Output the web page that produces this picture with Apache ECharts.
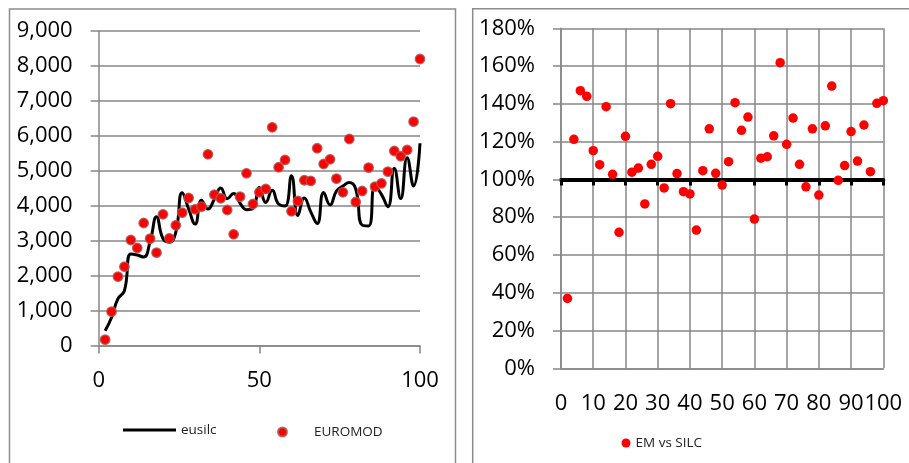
<!DOCTYPE html>
<html><head><meta charset="utf-8">
<script src="https://cdn.jsdelivr.net/npm/echarts@6/dist/echarts.min.js"></script>
<style>html,body{margin:0;padding:0;background:#fff}#c{width:909px;height:463px}</style>
</head><body><div id="c"></div>
<script>
// percentile groups (x values)
const percentiles = [2,4,6,8,10,12,14,16,18,20,22,24,26,28,30,32,34,36,38,40,42,44,46,48,50,
  52,54,56,58,60,62,64,66,68,70,72,74,76,78,80,82,84,86,88,90,92,94,96,98,100];
// left chart: eusilc (line)
const eusilc = [420,800,1338,1565,2619,2586,2530,2975,3686,3056,2954,3243,4367,3907,3472,4158,3905,4184,4504,4199,
  4346,4070,3886,3922,4519,4093,4441,4047,3991,4859,3718,4220,3824,3488,4379,4021,4419,4561,4660,4477,
  3442,3420,4567,4324,3969,5073,4203,5374,4564,5786];
// left chart: EUROMOD (dots)
const euromod = [165,965,1967,2253,3017,2788,3504,3055,2654,3753,3066,3438,3799,4220,3896,3971,5471,4314,4211,3876,
  3181,4257,4927,4048,4383,4478,6244,5099,5308,3839,4134,4727,4707,5643,5193,5328,4773,4383,5909,4105,
  4420,5088,4544,4640,4973,5565,5414,5594,6404,8199];
// right chart: EM vs SILC ratio
const emVsSilc = [0.37,1.212,1.470,1.440,1.152,1.078,1.385,1.027,0.720,1.228,1.038,1.060,0.870,1.080,1.122,0.955,1.401,1.031,0.935,0.923,
  0.732,1.046,1.268,1.032,0.970,1.094,1.406,1.260,1.330,0.790,1.112,1.120,1.231,1.618,1.186,1.325,1.080,0.961,1.268,0.917,
  1.284,1.494,0.995,1.073,1.253,1.097,1.288,1.041,1.403,1.417];
// tick values
const leftYTicks = [0,1000,2000,3000,4000,5000,6000,7000,8000,9000];
const leftXTicks = [0,50,100];
const rightYTicks = [0,0.2,0.4,0.6,0.8,1.0,1.2,1.4,1.6,1.8];
const rightXTicks = [0,10,20,30,40,50,60,70,80,90,100];
const referenceRatio = 1.0;

const FONT = "'Open Sans', 'Noto Sans', sans-serif";
const GRAY = '#878787';
const rightGrid = {left: 561, top: 28.3, width: 322.3, height: 340};

const lineData = percentiles.map((p, i) => [p, eusilc[i]]);
const emData = percentiles.map((p, i) => [p, euromod[i]]);
const ratioData = percentiles.map((p, i) => [p, emVsSilc[i]]);

const rMin = rightYTicks[0], rMax = rightYTicks[rightYTicks.length - 1];
const refOffset = -rightGrid.height * (referenceRatio - rMin) / (rMax - rMin);

const legendText = {fontFamily: FONT, fontSize: 13.5, color: '#222'};

const chart = echarts.init(document.getElementById('c'), null, {renderer: 'canvas'});
chart.setOption({
  animation: false,
  backgroundColor: '#fff',
  textStyle: {fontFamily: FONT},
  graphic: [
    {type: 'rect', silent: true, z: -10, shape: {x: 9.5, y: 9, width: 446, height: 480},
      style: {fill: 'none', stroke: '#8c8c8c', lineWidth: 1.5}},
    {type: 'rect', silent: true, z: -10, shape: {x: 472.7, y: 8.7, width: 460, height: 480},
      style: {fill: 'none', stroke: '#8c8c8c', lineWidth: 1.5}}
  ],
  grid: [
    {left: 98.7, top: 31, width: 321.3, height: 314.4, outerBoundsMode: 'none', containLabel: false},
    Object.assign({outerBoundsMode: 'none', containLabel: false}, rightGrid)
  ],
  legend: [
    {data: [{name: 'eusilc', icon: 'rect', itemStyle: {color: '#000'}}], left: 118, top: 418, padding: 5,
      itemWidth: 53, itemHeight: 3, itemGap: 0, textStyle: legendText, selectedMode: false},
    {data: ['EUROMOD'], left: 272, top: 420, itemWidth: 53, itemHeight: 9, itemGap: 0,
      textStyle: legendText, selectedMode: false},
    {data: ['EM vs SILC'], left: 616.5, top: 431, itemWidth: 9, itemHeight: 9, itemGap: 0,
      textStyle: legendText, selectedMode: false}
  ],
  xAxis: [
    {type: 'value', gridIndex: 0, min: leftXTicks[0], max: leftXTicks[leftXTicks.length - 1],
      interval: leftXTicks[1] - leftXTicks[0],
      axisLine: {show: true, onZero: false, lineStyle: {color: GRAY, width: 1.5}},
      axisTick: {show: true, length: 8, lineStyle: {color: GRAY, width: 1.5}},
      axisLabel: {margin: 24, fontSize: 22, color: '#000', fontFamily: FONT},
      splitLine: {show: false}},
    {type: 'value', gridIndex: 1, position: 'bottom', min: rightXTicks[0], max: rightXTicks[rightXTicks.length - 1],
      interval: rightXTicks[1] - rightXTicks[0],
      axisLine: {show: true, onZero: false, lineStyle: {color: GRAY, width: 1.5}},
      axisTick: {show: false},
      axisLabel: {margin: 24, fontSize: 22, color: '#000', fontFamily: FONT, hideOverlap: false},
      splitLine: {show: true, lineStyle: {color: GRAY, width: 1.5}}},
    {type: 'value', gridIndex: 1, position: 'bottom', offset: refOffset,
      min: rightXTicks[0], max: rightXTicks[rightXTicks.length - 1], interval: rightXTicks[1] - rightXTicks[0],
      axisLine: {show: true, onZero: false, lineStyle: {color: '#000', width: 4}},
      axisTick: {show: true, length: 6, lineStyle: {color: '#000', width: 3}},
      axisLabel: {show: false}, splitLine: {show: false}}
  ],
  yAxis: [
    {type: 'value', gridIndex: 0, min: leftYTicks[0], max: leftYTicks[leftYTicks.length - 1],
      interval: leftYTicks[1] - leftYTicks[0],
      axisLine: {show: true, onZero: false, lineStyle: {color: GRAY, width: 1.5}},
      axisTick: {show: true, length: 8, lineStyle: {color: GRAY, width: 1.5}},
      axisLabel: {margin: 26, fontSize: 22, color: '#000', fontFamily: FONT,
        formatter: v => v.toLocaleString('en-US')},
      splitLine: {show: true, lineStyle: {color: GRAY, width: 1.5}}},
    {type: 'value', gridIndex: 1, min: rMin, max: rMax, interval: 0.2,
      axisLine: {show: true, onZero: false, lineStyle: {color: GRAY, width: 1.5}},
      axisTick: {show: true, length: 8, lineStyle: {color: GRAY, width: 1.5}},
      axisLabel: {margin: 26, fontSize: 22, color: '#000', fontFamily: FONT,
        formatter: v => Math.round(v * 100) + '%'},
      splitLine: {show: true, lineStyle: {color: GRAY, width: 1.5}}}
  ],
  series: [
    {name: 'eusilc', type: 'line', xAxisIndex: 0, yAxisIndex: 0, data: lineData,
      smooth: 0.5, symbol: 'none', showSymbol: false, lineStyle: {color: '#000', width: 3}, itemStyle: {color: '#000'}, z: 2},
    {name: 'EUROMOD', type: 'scatter', xAxisIndex: 0, yAxisIndex: 0, data: emData,
      symbol: 'circle', symbolSize: 9.5,
      itemStyle: {color: '#ff0000', borderColor: 'rgba(170,90,90,0.85)', borderWidth: 1.3, opacity: 1}, z: 3},
    {name: 'EM vs SILC', type: 'scatter', xAxisIndex: 1, yAxisIndex: 1, data: ratioData,
      symbol: 'circle', symbolSize: 9.5, itemStyle: {color: '#ff0000', opacity: 1}, z: 3}
  ]
});
</script></body></html>
